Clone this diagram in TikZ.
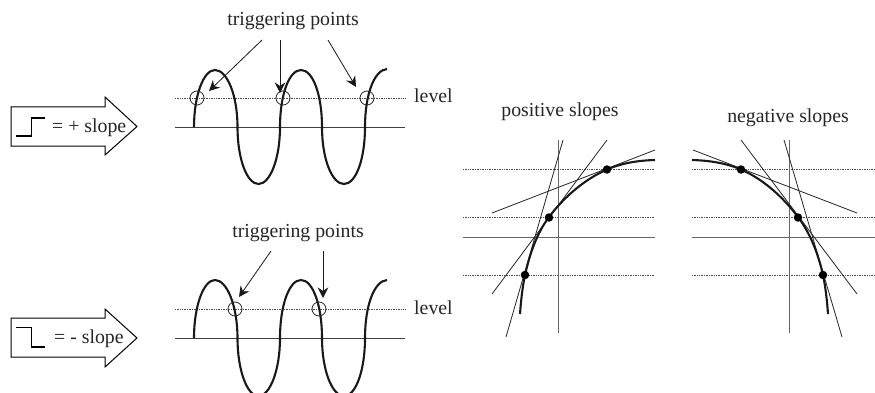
\documentclass[tikz,border=0pt]{standalone}
\usepackage{fontspec}
\setmainfont{Liberation Serif}
\usetikzlibrary{arrows.meta}
\tikzset{
  lbl/.style={anchor=base,inner sep=0pt,font=\fontsize{19.8}{24}\selectfont,text=black!85},
  base line/.style={line width=0.9pt,draw=black!75},
  level line/.style={line width=0.9pt,draw=black!70,dash pattern=on 1pt off 0.7pt},
  wave/.style={line width=2.1pt,draw=black!90},
  thin line/.style={line width=0.8pt,draw=black!85},
  axis line/.style={line width=1pt,draw=black!60},
  pointer/.style={line width=0.8pt,draw=black!90,-{Stealth[length=10.5pt,width=10.5pt,inset=3.5pt]}},
  ring/.style={circle,draw=black!85,line width=0.8pt,minimum size=14pt,inner sep=0pt},
  dot/.style={circle,fill=black,minimum size=8.5pt,inner sep=0pt},
  step line/.style={line width=1.5pt,draw=black},
  slope arrow/.style={line width=1pt,draw=black,line join=miter}
}
\begin{document}
\begin{tikzpicture}[x=1pt,y=-1pt]
\useasboundingbox (0,0) rectangle (875,393);
\clip (0,0) rectangle (875,393);
\fill[white] (0,0) rectangle (875,393);
% ---- top left
\draw[slope arrow] (11,107) -- (105,107) -- (105,97) -- (137,126.5) -- (105,155) -- (105,146) -- (11,146) -- cycle;
\draw[step line] (16,136) -- (31.5,136) -- (31.5,118) -- (45,118);
\node[lbl,anchor=base west] (plus) at (52,132) {= + slope};
\node[lbl] (trigA) at (293,26) {triggering points};
\node[lbl,anchor=base west] (levelA) at (414,103) {level};
\draw[level line] (175,98) -- (405,98);
\draw[base line] (175,127) -- (405,127);
\draw[wave] (194,127) .. controls (194,95.6) and (203.5,70) .. (215,70)
  .. controls (227,70) and (237.5,95) .. (237.5,127)
  .. controls (237.5,159) and (247,184) .. (258.5,184)
  .. controls (270,184) and (280,159) .. (280,127)
  .. controls (280,95) and (289,70) .. (301,70)
  .. controls (313,70) and (322,95) .. (322,127)
  .. controls (322,159) and (332,184) .. (344,184)
  .. controls (356,184) and (365,159) .. (365,127)
  .. controls (365,95) and (374,70) .. (387,69);
\node[ring] (ra1) at (197,98) {};
\node[ring] (ra2) at (283,98) {};
\node[ring] (ra3) at (367,98) {};
\coordinate (sa1) at (262,40); \coordinate (ea1) at (209,91);
\coordinate (sa2) at (280,40); \coordinate (ea2) at (280,93);
\coordinate (sa3) at (328,40); \coordinate (ea3) at (356,87);
\draw[pointer] (sa1) -- (ea1);
\draw[pointer] (sa2) -- (ea2);
\draw[pointer] (sa3) -- (ea3);
% ---- bottom left
\draw[slope arrow] (11,318) -- (105,318) -- (105,309) -- (137,338) -- (105,367) -- (105,357) -- (11,357) -- cycle;
\draw[step line] (16,327.5) -- (31.5,327.5) -- (31.5,347) -- (45,347);
\node[lbl,anchor=base west] (minus) at (54,343) {= - slope};
\node[lbl] (trigB) at (298,237) {triggering points};
\node[lbl,anchor=base west] (levelB) at (414,314) {level};
\draw[level line] (175,309) -- (405,309);
\draw[base line] (175,338) -- (405,338);
\draw[wave] (194,338) .. controls (194,306) and (203.5,280) .. (215,280)
  .. controls (227,280) and (237.5,306) .. (237.5,338)
  .. controls (237.5,370) and (247,396) .. (258.5,396)
  .. controls (270,396) and (280,370) .. (280,338)
  .. controls (280,306) and (289,280) .. (301,280)
  .. controls (313,280) and (322,306) .. (322,338)
  .. controls (322,370) and (332,396) .. (344,396)
  .. controls (356,396) and (365,370) .. (365,338)
  .. controls (365,306) and (374,281) .. (387,280);
\node[ring] (rb1) at (235,309) {};
\node[ring] (rb2) at (319,309) {};
\coordinate (sb1) at (271,251); \coordinate (eb1) at (239,297);
\coordinate (sb2) at (323,251); \coordinate (eb2) at (323,298);
\draw[pointer] (sb1) -- (eb1);
\draw[pointer] (sb2) -- (eb2);
% ---- positive slopes
\node[lbl] (pos) at (560,117) {positive slopes};
\draw[level line] (463,169.5) -- (655,169.5);
\draw[level line] (463,217.5) -- (655,217.5);
\draw[level line] (463,275) -- (655,275);
\draw[axis line] (463,237) -- (655,237);
\draw[axis line] (558.7,140) -- (558.7,333);
\draw[thin line] (506,337) -- (563,140);
\draw[thin line] (492,294) -- (607,140);
\draw[thin line] (492,213) -- (655,150);
\draw[wave] (520,314) .. controls (521,300) and (522.5,287) .. (525,275)
  .. controls (530,253) and (537,233) .. (549,217)
  .. controls (564,197) and (585,179) .. (607,169.5)
  .. controls (622,163) and (638,160.5) .. (655,160);
\node[dot] (pd1) at (525,275) {};
\node[dot] (pd2) at (549,217.5) {};
\node[dot] (pd3) at (607,169.5) {};
% ---- negative slopes
\node[lbl] (neg) at (788,123) {negative slopes};
\draw[level line] (692,169.5) -- (875,169.5);
\draw[level line] (692,217.5) -- (875,217.5);
\draw[level line] (692,275) -- (875,275);
\draw[axis line] (692,237) -- (875,237);
\draw[axis line] (789,140) -- (789,333);
\draw[thin line] (842,337) -- (784,140);
\draw[thin line] (857,294) -- (741,140);
\draw[thin line] (857,213) -- (693,150);
\draw[wave] (828,314) .. controls (827,300) and (825.5,287) .. (823,275)
  .. controls (818,253) and (810,233) .. (798,217)
  .. controls (783,197) and (763,179) .. (741,169.5)
  .. controls (726,163) and (709,160.5) .. (692,160);
\node[dot] (nd1) at (823,275) {};
\node[dot] (nd2) at (798,217.5) {};
\node[dot] (nd3) at (741,169.5) {};
\end{tikzpicture}
\end{document}
